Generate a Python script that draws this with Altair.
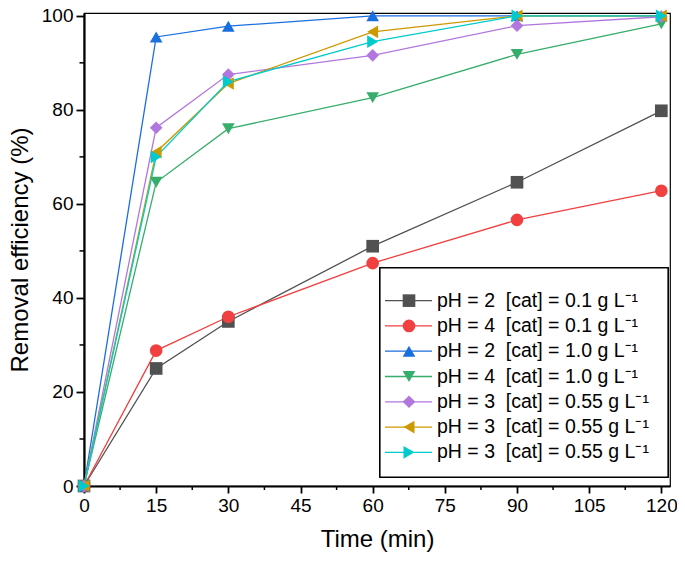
import altair as alt
import pandas as pd

times = [0, 15, 30, 60, 90, 120]
series_ids = ["s1", "s2", "s3", "s4", "s5", "s6", "s7"]
labels = [
    "pH = 2\u00a0\u00a0[cat] = 0.1 g L⁻¹",
    "pH = 4\u00a0\u00a0[cat] = 0.1 g L⁻¹",
    "pH = 2\u00a0\u00a0[cat] = 1.0 g L⁻¹",
    "pH = 4\u00a0\u00a0[cat] = 1.0 g L⁻¹",
    "pH = 3\u00a0\u00a0[cat] = 0.55 g L⁻¹",
    "pH = 3\u00a0\u00a0[cat] = 0.55 g L⁻¹",
    "pH = 3\u00a0\u00a0[cat] = 0.55 g L⁻¹",
]
s1 = [0, 25.0, 35.0, 51.0, 64.6, 79.8]
s2 = [0, 28.8, 36.0, 47.4, 56.6, 62.8]
s3 = [0, 95.5, 97.8, 100.0, 100.0, 100.0]
s4 = [0, 64.6, 76.0, 82.6, 91.8, 98.3]
s5 = [0, 76.2, 87.5, 91.6, 97.9, 99.8]
s6 = [0, 71.0, 85.6, 96.6, 100.0, 100.0]
s7 = [0, 70.0, 86.0, 94.5, 100.0, 100.0]
values = [s1, s2, s3, s4, s5, s6, s7]

colors = ["#515151", "#F14040", "#1A6FDF", "#37AD6B", "#B177DE", "#CC9900", "#00CBCC"]
shapes = ["square", "circle", "triangle-up", "triangle-down", "diamond",
          "triangle-left", "triangle-right"]

x_major = [0, 15, 30, 45, 60, 75, 90, 105, 120]
x_minor = [7.5, 22.5, 37.5, 52.5, 67.5, 82.5, 97.5, 112.5]
y_major = [0, 20, 40, 60, 80, 100]
y_minor = [10, 30, 50, 70, 90]

rows = []
for sid, vals in zip(series_ids, values):
    for t, v in zip(times, vals):
        rows.append({"series": sid, "time": t, "eff": v})
df = pd.DataFrame(rows)

leg = pd.DataFrame({"series": series_ids, "label": labels, "idx": list(range(len(labels)))})

FONT = "Liberation Sans"
W, H = 586, 473

xs = alt.Scale(domain=[0, 121.8], nice=False, zero=False)
ys = alt.Scale(domain=[0, 100.6], nice=False)
col = alt.Color("series:N", scale=alt.Scale(domain=series_ids, range=colors), legend=None)
shp = alt.Shape("series:N", scale=alt.Scale(domain=series_ids, range=shapes), legend=None)

xenc = alt.X("time:Q", scale=xs,
             axis=alt.Axis(values=x_major, title="Time (min)", orient="bottom",
                           labelFontSize=19, titleFontSize=24, tickSize=7, labelFlush=False,
                           labelPadding=3, titlePadding=12, titleFontWeight="normal"))
yenc = alt.Y("eff:Q", scale=ys,
             axis=alt.Axis(values=y_major, title="Removal efficiency (%)", orient="left",
                           labelFontSize=19, titleFontSize=24, tickSize=8, labelFlush=False,
                           labelPadding=3, titlePadding=9, titleFontWeight="normal"))

base = alt.Chart(df)
lines = base.mark_line(strokeWidth=1.3).encode(x=xenc, y=yenc, color=col, detail="series:N")
points = base.mark_point(filled=True, opacity=1, size=160).encode(
    x=alt.X("time:Q", scale=xs), y=alt.Y("eff:Q", scale=ys), color=col, shape=shp)

xm = alt.Chart(pd.DataFrame({"t": x_minor})).mark_rule(color="black", strokeWidth=1.5).encode(
    x=alt.X("t:Q", scale=xs), y=alt.value(H), y2=alt.value(H + 4))
ym = alt.Chart(pd.DataFrame({"v": y_minor})).mark_rule(color="black", strokeWidth=1.5).encode(
    y=alt.Y("v:Q", scale=ys), x=alt.value(0), x2=alt.value(-4.5))

# custom legend
ly = alt.Y("idx:O", scale=alt.Scale(range=[275, 452]), axis=None)
box = alt.Chart(leg).mark_rect(fill="white", stroke="black", strokeWidth=1.2).encode(
    x=alt.value(296), x2=alt.value(584), y=alt.value(255), y2=alt.value(464))
lseg = alt.Chart(leg).mark_rule(strokeWidth=1.3).encode(
    x=alt.value(301), x2=alt.value(348), y=ly, color=col)
lpt = alt.Chart(leg).mark_point(filled=True, opacity=1, size=160).encode(
    x=alt.value(325), y=ly, color=col, shape=shp)
ltxt = alt.Chart(leg).mark_text(align="left", baseline="middle", fontSize=19.5, font=FONT,
                                 color="black").encode(
    x=alt.value(353), y=ly, text="label:N")

legend = alt.layer(box, lseg, lpt, ltxt)

chart = alt.layer(
    alt.layer(lines, points, xm, ym),
    legend,
).resolve_scale(y="independent").properties(
    width=W, height=H,
    padding={"left": 76, "top": 5, "right": 7, "bottom": 69},
    autosize=alt.AutoSizeParams(type="none"),
).configure_view(stroke="black", strokeWidth=1.2).configure_axis(
    labelFont=FONT, titleFont=FONT, labelColor="black", titleColor="black",
    domainColor="black", tickColor="black", domainWidth=2.2, tickWidth=1.8, grid=False,
)

chart.save("out.html", embed_options={"renderer": "svg", "actions": False})
